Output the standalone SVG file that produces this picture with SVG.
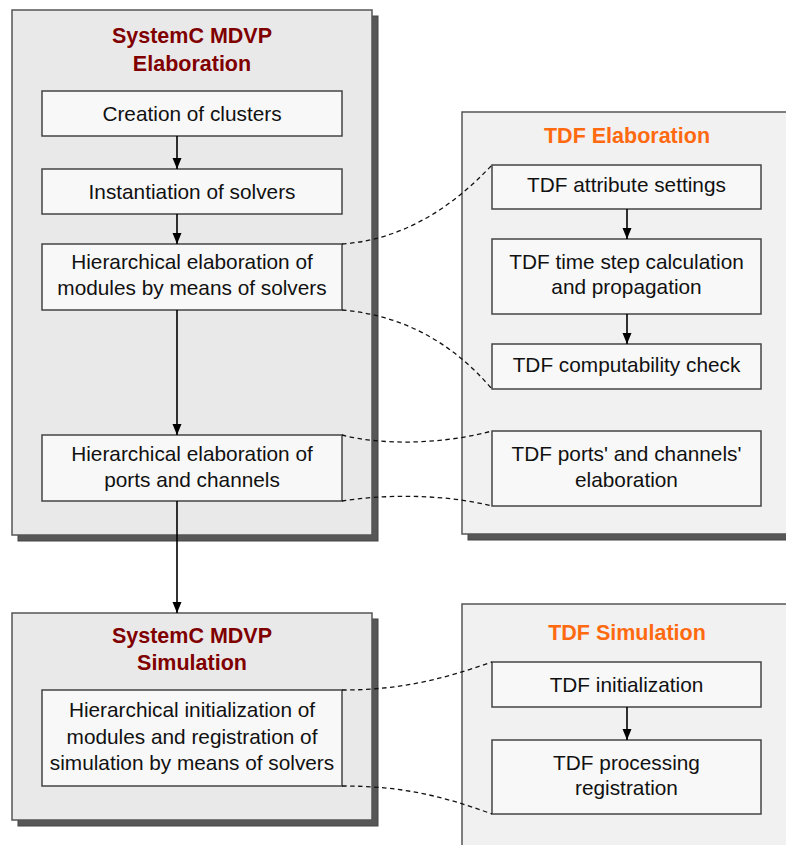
<svg xmlns="http://www.w3.org/2000/svg" width="786" height="845" viewBox="0 0 786 845">
<style>
.shadow{fill:#575757;stroke:#444;stroke-width:1}
.contL{fill:#e9e9e9;stroke:#555;stroke-width:1.5}
.contR{fill:#f1f1f1;stroke:#555;stroke-width:1.5}
.box{fill:#f8f8f8;stroke:#444;stroke-width:1.5}
.t{font-family:"Liberation Sans",Arial,sans-serif;font-size:20.8px;fill:#111;text-anchor:middle}
.tl{font-family:"Liberation Sans",Arial,sans-serif;font-size:21.5px;font-weight:bold;fill:#800000;text-anchor:middle}
.tr{font-family:"Liberation Sans",Arial,sans-serif;font-size:21.5px;font-weight:bold;fill:#ff6a10;text-anchor:middle}
.arr{stroke:#000;stroke-width:1.6;fill:none;marker-end:url(#ah)}
.dash{stroke:#111;stroke-width:1.3;fill:none;stroke-dasharray:4.5,3.5}
</style>
<defs>
<marker id="ah" markerUnits="userSpaceOnUse" markerWidth="12" markerHeight="10" refX="11" refY="5" orient="auto">
<path d="M0,0.5 L11,5 L0,9.5 z" fill="#000"/>
</marker>
</defs>
<rect width="786" height="845" fill="#fff"/>

<g id="systemc-elaboration">
<rect class="shadow" x="18" y="16" width="360" height="525"/>
<rect class="contL" x="12" y="10" width="360" height="525"/>
<text class="tl" x="192" y="43">SystemC MDVP</text>
<text class="tl" x="192" y="71">Elaboration</text>
</g>
<g id="creation-clusters">
<rect class="box" x="42" y="91" width="300" height="45"/>
<text class="t" x="192" y="121">Creation of clusters</text>
</g>
<g id="instantiation-solvers">
<rect class="box" x="42" y="169" width="300" height="45"/>
<text class="t" x="192" y="199">Instantiation of solvers</text>
</g>
<g id="hier-modules">
<rect class="box" x="42" y="244" width="300" height="66"/>
<text class="t" x="192" y="268.5">Hierarchical elaboration of</text>
<text class="t" x="192" y="295">modules by means of solvers</text>
</g>
<g id="hier-ports">
<rect class="box" x="42" y="435" width="300" height="66"/>
<text class="t" x="192" y="461">Hierarchical elaboration of</text>
<text class="t" x="192" y="487">ports and channels</text>
</g>

<g id="systemc-simulation">
<rect class="shadow" x="18" y="619" width="360" height="207"/>
<rect class="contL" x="12" y="613" width="360" height="207"/>
<text class="tl" x="192" y="643">SystemC MDVP</text>
<text class="tl" x="192" y="670">Simulation</text>
</g>
<g id="hier-init">
<rect class="box" x="42" y="690" width="300" height="96"/>
<text class="t" x="192" y="717">Hierarchical initialization of</text>
<text class="t" x="192" y="743.5">modules and registration of</text>
<text class="t" x="192" y="770">simulation by means of solvers</text>
</g>

<g id="tdf-elaboration">
<rect class="shadow" x="468" y="118" width="340" height="422"/>
<rect class="contR" x="462" y="112" width="340" height="422"/>
<text class="tr" x="627" y="143">TDF Elaboration</text>
</g>
<g id="tdf-attr">
<rect class="box" x="492" y="165" width="269" height="44"/>
<text class="t" x="626.5" y="192">TDF attribute settings</text>
</g>
<g id="tdf-timestep">
<rect class="box" x="492" y="239" width="269" height="75"/>
<text class="t" x="626.5" y="268.5">TDF time step calculation</text>
<text class="t" x="626.5" y="293.5">and propagation</text>
</g>
<g id="tdf-computability">
<rect class="box" x="492" y="344" width="269" height="45"/>
<text class="t" x="626.5" y="372">TDF computability check</text>
</g>
<g id="tdf-ports">
<rect class="box" x="492" y="431" width="269" height="75"/>
<text class="t" x="626.5" y="461">TDF ports' and channels'</text>
<text class="t" x="626.5" y="487">elaboration</text>
</g>

<g id="tdf-simulation">
<rect class="shadow" x="468" y="610" width="340" height="250"/>
<rect class="contR" x="462" y="604" width="340" height="250"/>
<text class="tr" x="627" y="640">TDF Simulation</text>
</g>
<g id="tdf-init">
<rect class="box" x="492" y="662" width="269" height="45"/>
<text class="t" x="626.5" y="692">TDF initialization</text>
</g>
<g id="tdf-processing">
<rect class="box" x="492" y="740" width="269" height="74"/>
<text class="t" x="626.5" y="770">TDF processing</text>
<text class="t" x="626.5" y="795">registration</text>
</g>

<g id="connectors">
<line class="arr" x1="177" y1="136" x2="177" y2="169"/>
<line class="arr" x1="177" y1="214" x2="177" y2="244"/>
<line class="arr" x1="177" y1="310" x2="177" y2="435"/>
<line class="arr" x1="177" y1="501" x2="177" y2="613"/>
<line class="arr" x1="627" y1="209" x2="627" y2="239"/>
<line class="arr" x1="627" y1="314" x2="627" y2="344"/>
<line class="arr" x1="627" y1="707" x2="627" y2="740"/>
<path class="dash" d="M342,244 C400,240 450,210 492,165"/>
<path class="dash" d="M342,310 C400,315 450,340 492,389"/>
<path class="dash" d="M342,435 C380,445 440,445 492,431"/>
<path class="dash" d="M342,501 C380,495 440,493 492,506"/>
<path class="dash" d="M342,690 C400,690 440,680 492,662"/>
<path class="dash" d="M342,786 C400,786 440,795 492,814"/>
</g>
</svg>
